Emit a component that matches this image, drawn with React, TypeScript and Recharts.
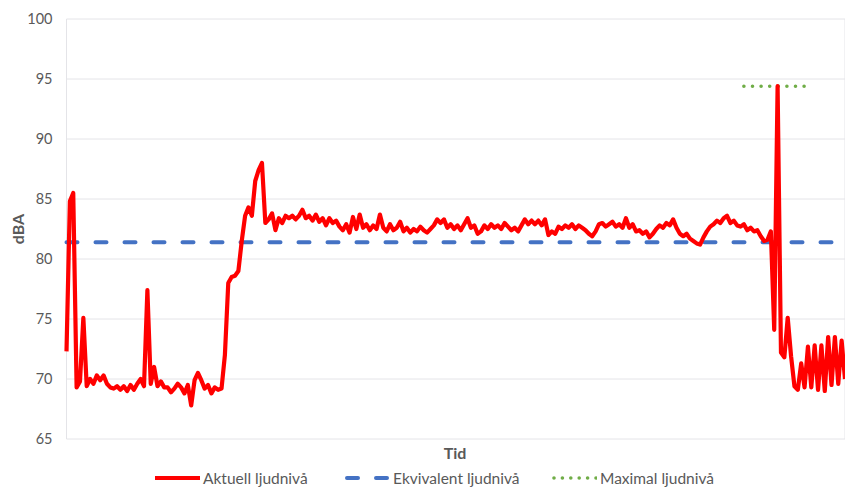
import React from 'react';
import {
  LineChart,
  Line,
  XAxis,
  YAxis,
  CartesianGrid,
  Legend,
} from 'recharts';

// aktuell ljudnivå, one reading every half time step
const aktuell = [
  72.3, 84.8, 85.5, 69.3, 69.8, 75.1, 69.4, 70.0, 69.6, 70.3,
  69.9, 70.3, 69.6, 69.3, 69.2, 69.4, 69.1, 69.4, 69.0, 69.5,
  69.1, 69.6, 70.0, 69.4, 77.4, 69.6, 71.0, 69.4, 69.8, 69.3,
  69.3, 68.9, 69.2, 69.6, 69.3, 68.8, 69.5, 67.8, 69.9, 70.5,
  69.9, 69.2, 69.5, 68.8, 69.3, 69.1, 69.2, 72.0, 78.0, 78.5,
  78.6, 79.0, 81.5, 83.6, 84.3, 83.6, 86.5, 87.4, 88.0, 83.0,
  83.3, 83.8, 82.4, 83.4, 83.0, 83.6, 83.4, 83.6, 83.3, 83.6,
  84.1, 83.4, 83.6, 83.2, 83.7, 83.1, 83.4, 82.8, 83.4, 83.0,
  83.2, 82.7, 82.4, 82.9, 82.2, 83.5, 82.5, 83.7, 82.6, 82.9,
  82.4, 82.8, 82.5, 83.7, 82.6, 82.3, 82.9, 82.4, 82.6, 83.1,
  82.3, 82.6, 82.2, 82.5, 82.3, 82.7, 82.4, 82.2, 82.5, 82.8,
  83.3, 83.0, 83.3, 82.6, 82.9, 82.5, 82.8, 82.4, 82.9, 83.4,
  82.6, 82.8, 82.1, 82.3, 82.8, 82.5, 82.9, 82.6, 82.8, 82.5,
  83.0, 82.7, 82.4, 82.6, 82.3, 82.8, 83.3, 82.9, 83.2, 82.9,
  83.2, 82.8, 83.3, 82.0, 82.3, 82.1, 82.7, 82.5, 82.8, 82.6,
  82.9, 82.5, 82.8, 82.6, 82.4, 82.1, 81.9, 82.3, 82.9, 83.0,
  82.7, 82.9, 83.1, 82.7, 82.9, 82.6, 83.4, 82.6, 82.9, 82.3,
  82.4, 82.1, 82.3, 81.8, 82.1, 82.5, 82.8, 82.6, 83.0, 82.8,
  83.3, 82.6, 82.1, 81.9, 82.1, 81.7, 81.5, 81.3, 81.2, 81.8,
  82.3, 82.7, 82.9, 83.2, 83.0, 83.4, 83.6, 83.0, 83.2, 82.8,
  82.7, 82.9, 82.4, 82.6, 82.3, 82.4, 81.9, 81.5, 81.6, 82.3,
  74.1, 94.4, 72.2, 71.8, 75.1, 71.9, 69.4, 69.1, 71.3, 69.3,
  72.7, 69.3, 72.8, 69.1, 72.8, 69.0, 73.5, 69.5, 73.5, 69.6,
  73.2, 70.0,
];

const tid = aktuell.map((_, i) => i * 0.5);

const ekvivalentNiva = 81.4;
const maximalNiva = 94.4;
const maximalFran = 100.5;
const maximalTill = 109.5;

const yTicks = [65, 70, 75, 80, 85, 90, 95, 100];
const xTicks = [0, 10, 20, 30, 40, 50, 60, 70, 80, 90, 100, 110];

const data = tid.map((t, i) => ({
  t,
  aktuell: aktuell[i],
  ekvivalent: ekvivalentNiva,
  maximal: t >= maximalFran && t <= maximalTill ? maximalNiva : null,
}));

const FONT = 'Lato, "Open Sans", sans-serif';
const GREY = '#595959';

function LegendContent() {
  const item = (w: number): React.CSSProperties => ({
    width: w,
    display: 'flex',
    alignItems: 'center',
  });
  const txt: React.CSSProperties = { color: GREY, fontSize: 15.5, marginLeft: 3 };
  return (
    <div style={{ display: 'flex', height: 18, paddingLeft: 155, fontFamily: FONT }}>
      <div style={item(190)}>
        <svg width={45} height={10}>
          <line x1={0} y1={5} x2={45} y2={5} stroke="#ff0000" strokeWidth={4} />
        </svg>
        <span style={txt}>Aktuell ljudnivå</span>
      </div>
      <div style={item(207)}>
        <svg width={45} height={10}>
          <line x1={2} y1={5} x2={43} y2={5} stroke="#4472c4" strokeWidth={4} strokeDasharray="11 18" strokeLinecap="round" />
        </svg>
        <span style={txt}>Ekvivalent ljudnivå</span>
      </div>
      <div style={item(200)}>
        <svg width={45} height={10}>
          <line x1={2} y1={5} x2={44} y2={5} stroke="#70ad47" strokeWidth={3.6} strokeDasharray="0 8.4" strokeLinecap="round" />
        </svg>
        <span style={txt}>Maximal ljudnivå</span>
      </div>
    </div>
  );
}

export default function App() {
  return (
    <div style={{ position: 'absolute', left: 0, top: 0, width: 845, height: 487, overflow: 'hidden', background: '#fff' }}>
      <LineChart width={845} height={487} data={data} margin={{ top: 19, right: 0, bottom: 0, left: 0 }}>
        <CartesianGrid stroke="#e4e4e8" strokeWidth={1} />
        <XAxis
          dataKey="t"
          type="number"
          domain={[0, 115.5]}
          ticks={xTicks}
          tick={false}
          tickLine={false}
          axisLine={false}
          height={30}
          label={{
            content: () => (
              <text x={455} y={459} textAnchor="middle" fill={GREY} fontSize={16} fontWeight="bold" fontFamily={FONT}>
                Tid
              </text>
            ),
          }}
        />
        <YAxis
          domain={[65, 100]}
          ticks={yTicks}
          width={66.5}
          tickLine={false}
          axisLine={false}
          tickMargin={8}
          tick={{ fill: GREY, fontSize: 14.5, fontFamily: FONT }}
          label={{
            content: () => (
              <text x={24} y={229} transform="rotate(-90 24 229)" textAnchor="middle" fill={GREY} fontSize={16} fontWeight="bold" fontFamily={FONT}>
                dBA
              </text>
            ),
          }}
        />
        <Legend verticalAlign="bottom" content={LegendContent} />
        <Line
          type="linear"
          dataKey="ekvivalent"
          name="Ekvivalent ljudnivå"
          stroke="#4472c4"
          strokeWidth={4}
          strokeDasharray="11 18"
          strokeLinecap="round"
          dot={false}
          activeDot={false}
          isAnimationActive={false}
        />
        <Line
          type="linear"
          dataKey="maximal"
          name="Maximal ljudnivå"
          stroke="#70ad47"
          strokeWidth={3.6}
          strokeDasharray="0 8.6"
          strokeLinecap="round"
          dot={false}
          activeDot={false}
          isAnimationActive={false}
        />
        <Line
          type="linear"
          dataKey="aktuell"
          name="Aktuell ljudnivå"
          stroke="#ff0000"
          strokeWidth={4.2}
          strokeLinejoin="round"
          dot={false}
          activeDot={false}
          isAnimationActive={false}
        />
      </LineChart>
    </div>
  );
}
